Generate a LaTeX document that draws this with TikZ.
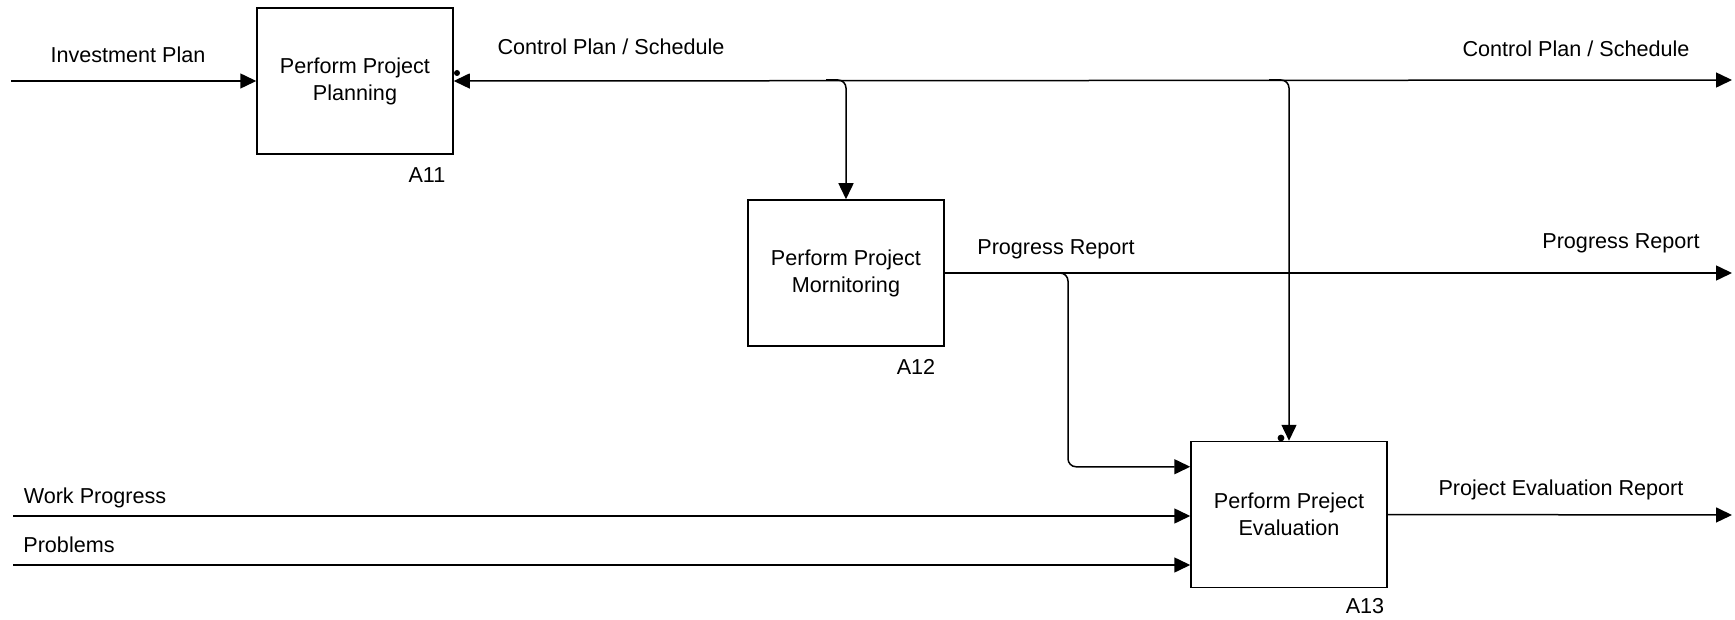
\documentclass[tikz,border=0pt]{standalone}
\usepackage{fontspec}
\setmainfont{Liberation Sans}
\usetikzlibrary{arrows.meta}
\begin{document}
\begin{tikzpicture}[x=0.5pt,y=-0.5pt,
  font=\fontsize{10.8pt}{13.5pt}\selectfont,
  flow/.style={line width=0.75pt,-{Triangle[length=8pt,width=7.5pt]}},
  twoway/.style={line width=0.75pt,{Triangle[length=8pt,width=7.5pt]}-{Triangle[length=8pt,width=7.5pt]}},
  activity/.style={draw,line width=0.75pt,minimum width=98pt,minimum height=73pt,inner sep=0pt,align=center},
  lbl/.style={anchor=base,inner sep=0pt},
  elbow/.style={rounded corners=4pt}]
\useasboundingbox (0,0) rectangle (1735,620);

% activity boxes
\node[activity] (A11) at (355,81) {Perform Project\\Planning};
\node[activity] (A12) at (846,273) {Perform Project\\Mornitoring};
\node[activity] (A13) at (1289,514.5) {Perform Preject\\Evaluation};

% box numbers
\node[lbl] (n11) at (427,183) {A11};
\node[lbl] (n12) at (916,374) {A12};
\node[lbl] (n13) at (1365,613) {A13};

% free ends of the arrows
\coordinate (inv) at (11,81);
\coordinate (cpEnd) at (1732,80);
\coordinate (prEnd) at (1732,273);
\coordinate (prb) at (1068,273);
\coordinate (a13in) at ([yshift=-13pt]A13.north west);
\coordinate (wp) at (13,516);
\coordinate (pb) at (13,565);
\coordinate (peEnd) at (1732,515);

% input to planning
\draw[flow] (inv) -- (A11.west);

% control plan / schedule, fed back to planning and passed on
\draw[twoway] (A11.east) -- (cpEnd);
\draw[flow,elbow] ([xshift=-10pt]A12.north |- cpEnd) -- (A12.north |- cpEnd) -- (A12.north);
\draw[flow,elbow] ([xshift=-10pt]A13.north |- cpEnd) -- (A13.north |- cpEnd) -- (A13.north);

% progress report
\draw[flow] (A12.east) -- (prEnd);
\draw[flow,elbow] ([xshift=-10pt]prb) -- (prb) -- (prb |- a13in) -- (a13in);

% inputs to evaluation
\draw[flow] (wp) -- (wp -| A13.west);
\draw[flow] (pb) -- (pb -| A13.west);

% evaluation output
\draw[flow] (A13.east) -- (peEnd);

% small dots beside the arrowheads
\fill (457,73) circle (1.5pt);
\fill (1281,438) circle (1.7pt);

% arrow labels
\node[lbl] (tInv) at (128,63) {Investment Plan};
\node[lbl] (tCp1) at (611,55) {Control Plan / Schedule};
\node[lbl] (tCp2) at (1576,57) {Control Plan / Schedule};
\node[lbl] (tPr1) at (1056,255) {Progress Report};
\node[lbl] (tPr2) at (1621,249) {Progress Report};
\node[lbl] (tPe) at (1561,495) {Project Evaluation Report};
\node[lbl] (tWp) at (95,503) {Work Progress};
\node[lbl] (tPb) at (69,552) {Problems};
\end{tikzpicture}
\end{document}
